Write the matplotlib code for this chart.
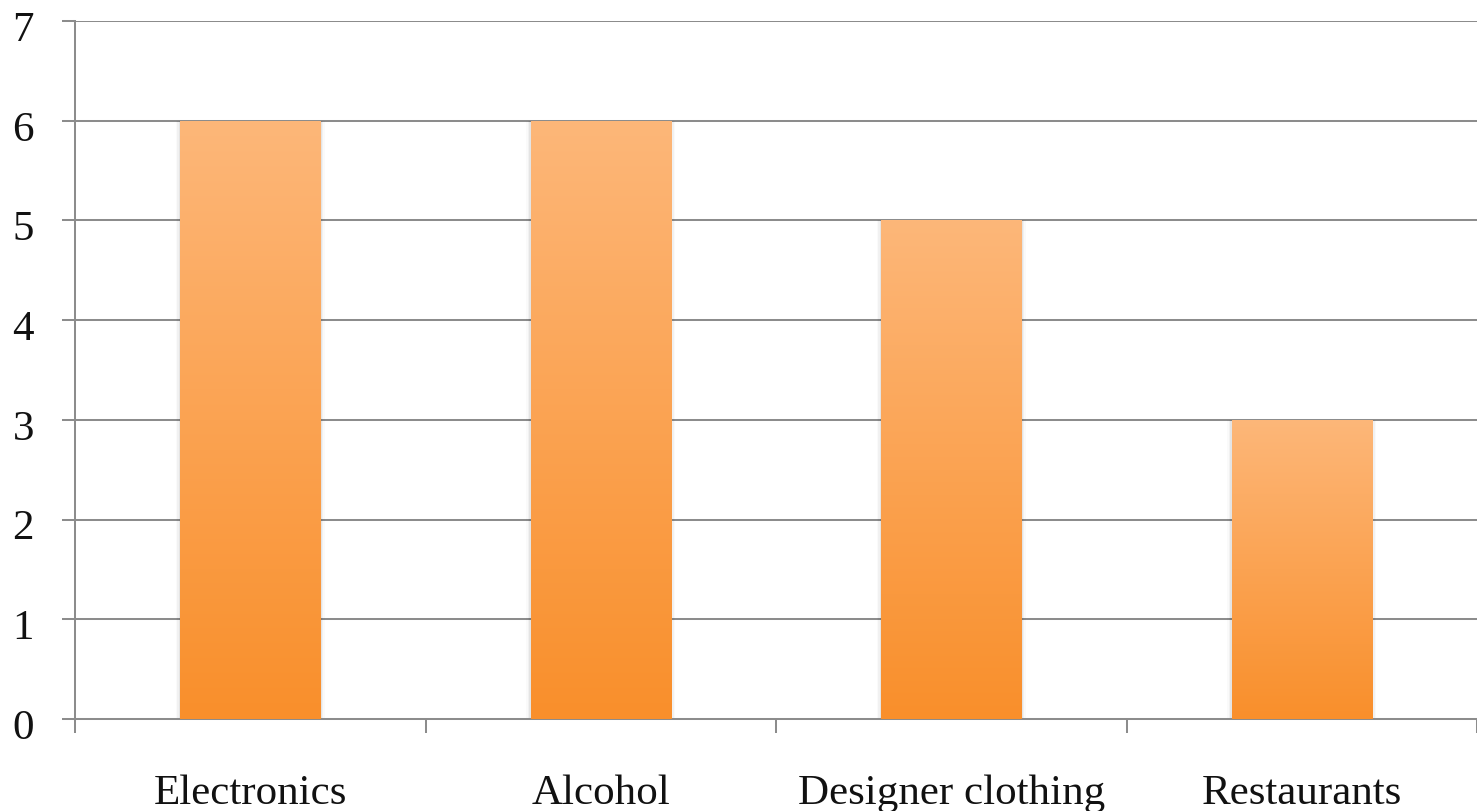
import numpy as np
import matplotlib
matplotlib.use("Agg")
import matplotlib.pyplot as plt
import matplotlib.transforms as mtransforms
from matplotlib.colors import LinearSegmentedColormap

categories = ["Electronics", "Alcohol", "Designer clothing", "Restaurants"]
values = [6, 6, 5, 3]
y_ticks = [0, 1, 2, 3, 4, 5, 6, 7]

plt.rcParams['font.family'] = ['Liberation Serif', 'DejaVu Serif']

fig = plt.figure(figsize=(14.77, 8.11), dpi=100)
ax = fig.add_axes([0.0508, 0.1134, 0.9492, 0.8606])

grid_color = "#8c8c8c"
line_w = 1.45
bar_width = 0.4
x = np.arange(len(categories))

# Orange vertical gradient fill for each bar
cmap = LinearSegmentedColormap.from_list("orange_grad", ["#f98f2b", "#fdb779"])
gradient = np.linspace(0, 1, 256).reshape(-1, 1)
for xi, v in zip(x, values):
    # soft shadow behind the bar
    for k, a in enumerate([0.05, 0.035, 0.02]):
        sh = plt.Rectangle((xi - bar_width / 2 - 0.004 * (k + 1), 0),
                           bar_width + 0.008 * (k + 1), v,
                           facecolor="black", alpha=a, edgecolor="none", zorder=2)
        ax.add_patch(sh)
    rect = plt.Rectangle((xi - bar_width / 2, 0), bar_width, v,
                         facecolor="none", edgecolor="none", zorder=3)
    ax.add_patch(rect)
    im = ax.imshow(gradient, cmap=cmap, origin="lower", aspect="auto",
                   extent=(xi - bar_width / 2, xi + bar_width / 2, 0, v), zorder=3)
    im.set_clip_path(rect)

ax.set_xlim(-0.5, len(categories) - 0.5)
ax.set_ylim(0, 7)

# Gridlines
ax.set_yticks(y_ticks)
ax.yaxis.grid(True, color=grid_color, linewidth=line_w, zorder=1)
ax.set_axisbelow(True)

for s in ["top", "right"]:
    ax.spines[s].set_visible(False)
for s in ["left", "bottom"]:
    ax.spines[s].set_color(grid_color)
    ax.spines[s].set_linewidth(line_w)

ax.tick_params(axis="y", length=9.5, width=line_w, color=grid_color, pad=20,
               labelsize=31, labelcolor="#111111")
# nudge the value labels slightly below their gridlines
shift = mtransforms.ScaledTranslation(0, -5 / 100, fig.dpi_scale_trans)
for lbl in ax.get_yticklabels():
    lbl.set_transform(lbl.get_transform() + shift)

ax.set_xticks(x)
ax.set_xticklabels(categories)
ax.tick_params(axis="x", which="major", length=0, pad=40, labelsize=31,
               labelcolor="#111111")
ax.set_xticks(np.arange(-0.5, len(categories), 1.0), minor=True)
ax.tick_params(axis="x", which="minor", length=10, width=line_w, color=grid_color)

fig.savefig("out.png", dpi=100)
